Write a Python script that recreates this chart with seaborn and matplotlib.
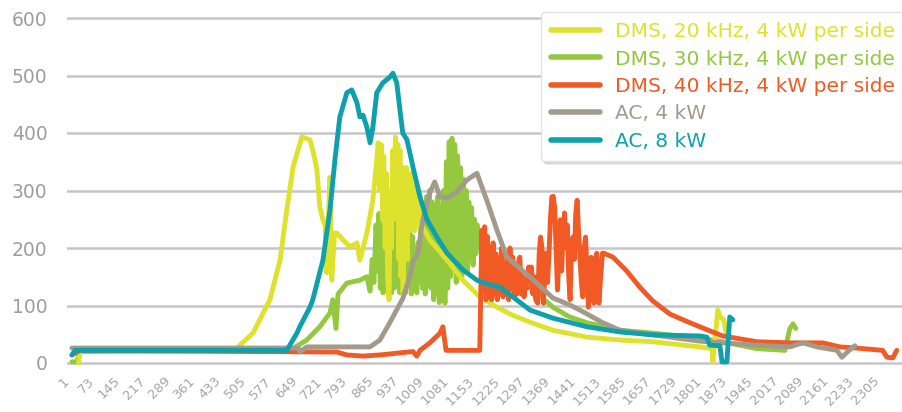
import numpy as np
import pandas as pd
import matplotlib
matplotlib.use("Agg")
import matplotlib.pyplot as plt
import seaborn as sns

# --------------------------------------------------------------------------- #
#                               DATA                          #
# --------------------------------------------------------------------------- #
x_ticks = [1, 73, 145, 217, 289, 361, 433, 505, 577, 649, 721, 793, 865, 937,
           1009, 1081, 1153, 1225, 1297, 1369, 1441, 1513, 1585, 1657, 1729,
           1801, 1873, 1945, 2017, 2089, 2161, 2233, 2305]
y_ticks = [0, 100, 200, 300, 400, 500, 600]

labels = ["DMS, 20 kHz, 4 kW per side", "DMS, 30 kHz, 4 kW per side",
          "DMS, 40 kHz, 4 kW per side", "AC, 4 kW", "AC, 8 kW"]
colors = ["#dfe22c", "#94c83e", "#f15a24", "#a39a8c", "#0ea1ac"]

dms20_x = [20, 24, 450, 470, 516, 564, 593, 612, 630, 655, 678, 686, 698, 706,
           715, 721, 726, 730, 735, 740, 748, 755, 772, 792, 812, 820, 840, 857,
           868, 872, 877, 881, 885, 888, 892, 895, 899, 903, 907, 910, 914, 918,
           921, 925, 928, 931, 934, 937, 940, 943, 946, 949, 952, 955, 958, 962,
           965, 968, 972, 976, 980, 984, 988, 992, 1000, 1019, 1068, 1113, 1161,
           1210, 1255, 1304, 1369, 1466, 1560, 1653, 1787, 1822, 1824, 1838,
           1845, 1855, 1862]
dms20_y = [0, 22, 22, 26, 52, 110, 179, 266, 341, 393, 388, 370, 336, 271,
           249, 240, 157, 240, 323, 144, 226, 226, 214, 202, 209, 179, 226, 283,
           353, 383, 300, 380, 250, 360, 200, 330, 150, 110, 300, 200, 370, 250,
           393, 280, 380, 180, 370, 150, 340, 122, 330, 200, 340, 180, 320, 230,
           330, 240, 310, 230, 300, 240, 280, 245, 235, 214, 179, 144, 115,
           97, 83, 71, 57, 45, 40, 37, 28, 25, 2, 92,
           80, 75, 52]

dms30_x = [1, 15, 24, 621, 669, 706, 735, 743, 752, 758, 783, 820, 840, 849,
           855, 860, 866, 870, 874, 878, 882, 886, 890, 894, 898, 902, 906, 910,
           914, 918, 922, 926, 930, 934, 938, 942, 946, 950, 954, 958, 962, 966,
           970, 974, 978, 982, 986, 990, 994, 998, 1002, 1006, 1010, 1014, 1018,
           1022, 1026, 1030, 1034, 1038, 1042, 1046, 1050, 1054, 1058, 1062,
           1066, 1070, 1074, 1078, 1082, 1086, 1090, 1094, 1098, 1102, 1106,
           1110, 1114, 1118, 1122, 1126, 1130, 1134, 1138, 1142, 1146, 1150,
           1154, 1160, 1170, 1190, 1218, 1275, 1323, 1369, 1417, 1466, 1560,
           1653, 1787, 1844, 1949, 2029, 2043, 2052, 2060]
dms30_y = [2, 2, 20, 22, 40, 63, 87, 110, 60, 120, 139, 144, 150, 125,
           180, 140, 240, 160, 260, 130, 240, 122, 220, 130, 250, 140, 240, 122,
           230, 130, 260, 140, 210, 122, 200, 130, 230, 122, 210, 140, 240, 120,
           220, 140, 200, 122, 210, 140, 250, 130, 270, 120, 290, 140, 300,
           130, 280, 110, 260, 120, 290, 105, 270, 110, 300, 104,
           350, 130, 385, 150, 391, 180, 380, 140, 360, 170, 340,
           150, 320, 170, 300, 160, 280, 180, 270, 170, 250, 190,
           240, 200, 215, 195, 172, 144, 122, 97, 80, 70, 57,
           52, 43, 38, 25, 22, 60, 68, 60]

dms40_x = [1, 10, 24, 755, 783, 829, 877, 925, 971, 982, 991, 1019, 1048, 1056,
           1065, 1161, 1167, 1171, 1175, 1179, 1183, 1187, 1191, 1195, 1199,
           1203, 1207, 1211, 1215, 1219, 1223, 1227, 1231, 1235, 1239, 1243,
           1247, 1251, 1255, 1259, 1263, 1267, 1271, 1275, 1279, 1283, 1287,
           1291, 1295, 1300, 1304, 1308, 1312, 1316, 1320, 1326, 1330, 1334,
           1338, 1342, 1346, 1350, 1354, 1358, 1362, 1366, 1370, 1374, 1378,
           1382, 1386, 1390, 1394, 1398, 1402, 1406, 1410, 1414, 1418, 1422,
           1426, 1430, 1434, 1438, 1442, 1446, 1450, 1454, 1458, 1462, 1466,
           1470, 1474, 1478, 1482, 1486, 1490, 1494, 1500, 1505, 1510, 1514,
           1540, 1579, 1616, 1653, 1702, 1759, 1807, 1852, 1949, 2043, 2137,
           2185, 2233, 2307, 2319, 2336, 2347]
dms40_y = [14, 17, 22, 19, 14, 12, 14, 17, 20, 12, 22, 35, 52, 63,
           22, 22, 231, 130, 237, 110, 220, 120, 200, 110, 209,
           120, 190, 110, 180, 125, 200, 115, 170, 120, 190, 110,
           200, 130, 184, 115, 160, 120, 175, 184, 120, 150, 115,
           140, 130, 167, 150, 167, 120, 150, 110, 104, 190, 219,
           200, 104, 150, 191, 140, 191, 250, 289, 290, 270, 200,
           127, 180, 249, 160, 230, 261, 200, 240, 150, 110, 200,
           219, 180, 260, 283, 230, 184, 140, 115, 200, 219, 160,
           97, 150, 184, 120, 104, 180, 191, 104, 150, 191, 191,
           184, 160, 132, 108, 85, 70, 58, 47, 37, 35, 35,
           28, 26, 22, 10, 9, 22]

ac4_x = [1, 645, 649, 669, 849, 877, 905, 942, 962, 971, 985, 999, 1019, 1033,
         1048, 1068, 1096, 1124, 1153, 1181, 1210, 1238, 1275, 1323, 1369, 1417,
         1446, 1511, 1560, 1653, 1787, 1852, 1949, 2043, 2080, 2120, 2177, 2191,
         2208, 2228]
ac4_y = [26, 26, 19, 28, 28, 40, 70, 112, 150, 176, 191, 249, 296, 315,
         289, 287, 297, 318, 330, 283, 231, 184, 165, 139, 113, 101,
         92, 70, 57, 49, 38, 35, 31, 28, 35, 28, 22, 10,
         20, 30]

ac8_x = [1, 10, 612, 641, 649, 678, 686, 715, 735, 749, 763, 783, 797, 812, 820,
         829, 840, 849, 857, 868, 885, 905, 914, 925, 934, 942, 954, 971, 991,
         1011, 1039, 1068, 1113, 1153, 1190, 1218, 1255, 1304, 1323, 1369, 1466,
         1560, 1653, 1787, 1807, 1815, 1844, 1850, 1864, 1872, 1881]
ac8_y = [14, 22, 22, 52, 63, 97, 110, 179, 266, 353, 428, 470, 475, 452, 428,
         431, 410, 383, 410, 470, 487, 497, 504, 487, 440, 400, 388, 341, 289,
         249, 219, 191, 162, 144, 136, 132, 115, 92, 88, 78, 63,
         54, 49, 47, 45, 31, 30, 2, 2, 80, 75]

series_x = [dms20_x, dms30_x, dms40_x, ac4_x, ac8_x]
series_y = [dms20_y, dms30_y, dms40_y, ac4_y, ac8_y]
zorders = [3, 2, 4, 5, 6]

# --------------------------------------------------------------------------- #
#                                   PLOT                                       #
# --------------------------------------------------------------------------- #
sns.set_style("white")
plt.rcParams["font.family"] = ["DejaVu Sans"]

W, H = 902, 412
fig = plt.figure(figsize=(W / 100, H / 100), dpi=100)
px_per_unit = (363 - 18) / 600
ylo, yhi = -3, 603
ax = fig.add_axes([67 / W, (H - 363 - 3 * px_per_unit) / H,
                   1 - 67 / W, (606 * px_per_unit) / H])

handles = {}
for lab, col, xs, ys, z in zip(labels, colors, series_x, series_y, zorders):
    df = pd.DataFrame({"idx": xs, "kw": ys})
    sns.lineplot(data=df, x="idx", y="kw", color=col, lw=3.5, ax=ax,
                 estimator=None, sort=False, zorder=z,
                 solid_joinstyle="round", solid_capstyle="round")
    handles[lab] = ax.lines[-1]

ax.set_xlim(-13, 2362)
ax.set_ylim(ylo, yhi)
ax.set_yticks(y_ticks)
ax.set_xticks(x_ticks)
ax.set_xticklabels([str(t) for t in x_ticks], rotation=45, ha="right", va="top")
ax.set_xlabel("")
ax.set_ylabel("")
ax.tick_params(axis="y", length=0, pad=14, labelsize=13.5, labelcolor="#9d9d9d")
ax.tick_params(axis="x", length=0, pad=7, labelsize=9.5, labelcolor="#a5a5a5")
ax.yaxis.grid(True, color="#c6c6ca", lw=1.8)
ax.xaxis.grid(False)
ax.set_axisbelow(True)
for s in ax.spines.values():
    s.set_visible(False)

leg = ax.legend([handles[l] for l in labels], labels,
                loc="upper left", bbox_to_anchor=(541 / W, 1 - 12 / H),
                bbox_transform=fig.transFigure, borderaxespad=0, fontsize=14.5,
                labelcolor="linecolor", handlelength=2.45, handletextpad=0.7,
                labelspacing=0.42, borderpad=0.5, frameon=True, fancybox=True,
                shadow={"color": "#bbbbbb", "alpha": 0.5, "ox": 2, "oy": -2})
leg.get_frame().set_edgecolor("#e2e2e2")
leg.get_frame().set_linewidth(1)
leg.set_zorder(10)
for ln in leg.get_lines():
    ln.set_linewidth(4)

fig.savefig("out.png", dpi=100)
